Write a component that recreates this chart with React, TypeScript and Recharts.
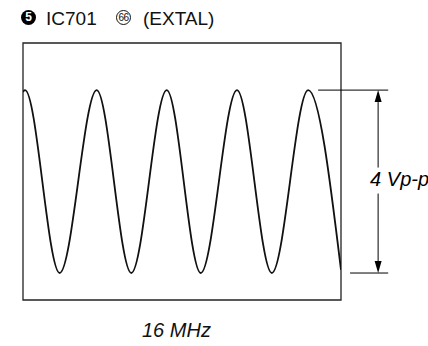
import React from 'react';
import { LineChart, Line, XAxis, YAxis, ReferenceArea, ReferenceLine } from 'recharts';

// EXTAL waveform (time in ns, level in V)
const timeNs = [0, 1.8, 32.4, 65.1, 95.7, 127.0, 157.1, 189.1, 219.9, 252.0, 281];
const voltage = [1.96, 2, -2, 2, -2, 2, -2, 2, -2, 2, -1.93];

const timeDomain = [0, 281];
const voltDomain = [-2.59, 3.03];

const titleLabel = 'IC701';
const pinLabel = '66';
const signalLabel = '(EXTAL)';
const freqLabel = '16 MHz';
const ampLabel = '4 Vp-p';

const data = timeNs.map((t, i) => ({ t, v: voltage[i] }));

const font = '"Liberation Sans", Arial, sans-serif';

const ArrowShape = (props: any) => {
  const { x1, y1, y2 } = props;
  const mid = (y1 + y2) / 2;
  const head = 12;
  const half = 3.5;
  return (
    <g>
      <line x1={x1} y1={y1 + head} x2={x1} y2={mid - 14} stroke="#000" strokeWidth={1} />
      <line x1={x1} y1={mid + 12} x2={x1} y2={y2 - head} stroke="#000" strokeWidth={1} />
      <polygon points={`${x1},${y1} ${x1 - half},${y1 + head} ${x1 + half},${y1 + head}`} fill="#000" />
      <polygon points={`${x1},${y2} ${x1 - half},${y2 - head} ${x1 + half},${y2 - head}`} fill="#000" />
      <text x={x1 - 8} y={mid + 4} fontFamily={font} fontStyle="italic" fontSize={20} fill="#000">
        {ampLabel}
      </text>
    </g>
  );
};

export default function App() {
  return (
    <div style={{ position: 'absolute', left: 0, top: 0, width: 428, height: 346, background: '#fff', fontFamily: font }}>
      <div style={{ position: 'absolute', left: 21, top: 10, width: 15, height: 15, borderRadius: 8, background: '#000', color: '#fff', fontSize: 12, fontWeight: 'bold', lineHeight: '15px', textAlign: 'center' }}>
        5
      </div>
      <div style={{ position: 'absolute', left: 46, top: 9, fontSize: 19, lineHeight: '19px', color: '#111', whiteSpace: 'nowrap' }}>
        {titleLabel}
      </div>
      <div style={{ position: 'absolute', left: 116, top: 10, width: 13, height: 13, borderRadius: 8, border: '1px solid #111', color: '#111', fontSize: 10, lineHeight: '13px', textAlign: 'center', letterSpacing: -0.6 }}>
        {pinLabel}
      </div>
      <div style={{ position: 'absolute', left: 143, top: 9, fontSize: 19, lineHeight: '19px', color: '#111', whiteSpace: 'nowrap' }}>
        {signalLabel}
      </div>
      <div style={{ position: 'absolute', left: 142, top: 320, fontSize: 20, lineHeight: '20px', fontStyle: 'italic', color: '#111', whiteSpace: 'nowrap' }}>
        {freqLabel}
      </div>
      <LineChart width={428} height={346} data={data} margin={{ top: 43, right: 87, bottom: 46, left: 23 }}>
        <XAxis dataKey="t" type="number" domain={timeDomain} hide allowDataOverflow />
        <YAxis type="number" domain={voltDomain} hide allowDataOverflow />
        <ReferenceArea
          x1={timeDomain[0]}
          x2={timeDomain[1]}
          y1={voltDomain[0]}
          y2={voltDomain[1]}
          fill="none"
          fillOpacity={0}
          stroke="#222"
          strokeWidth={1.3}
          ifOverflow="visible"
        />
        <ReferenceLine segment={[{ x: 260.8, y: 2 }, { x: 322.7, y: 2 }]} stroke="#000" strokeWidth={1} ifOverflow="visible" />
        <ReferenceLine segment={[{ x: 289, y: -2 }, { x: 322.7, y: -2 }]} stroke="#000" strokeWidth={1} ifOverflow="visible" />
        <ReferenceLine segment={[{ x: 313.8, y: 2 }, { x: 313.8, y: -2 }]} ifOverflow="visible" shape={ArrowShape} />
        <Line type="monotone" dataKey="v" stroke="#111" strokeWidth={1.8} dot={false} isAnimationActive={false} />
      </LineChart>
    </div>
  );
}
